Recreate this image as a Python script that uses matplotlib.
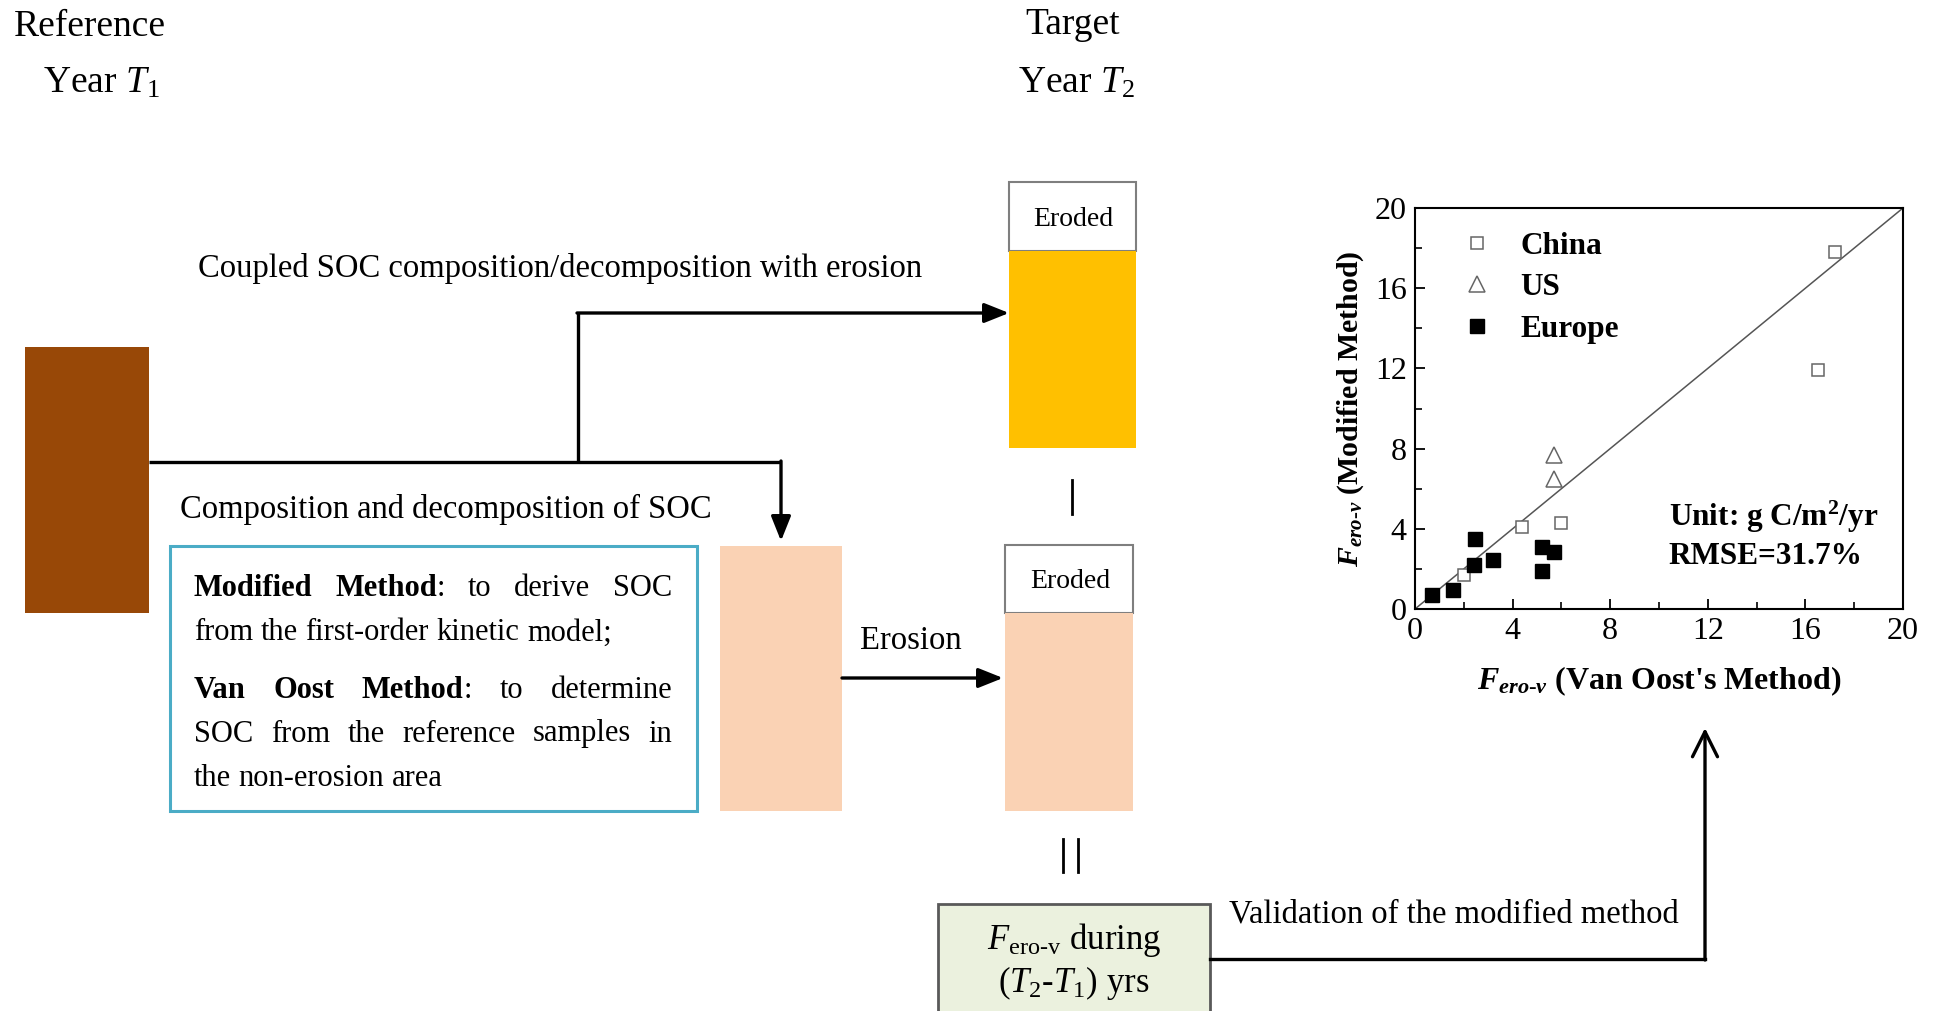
import matplotlib
matplotlib.use("Agg")
import matplotlib.pyplot as plt
from matplotlib.patches import Rectangle

plt.rcParams['font.family'] = ['Liberation Serif', 'DejaVu Serif']
plt.rcParams['mathtext.fontset'] = 'custom'
plt.rcParams['mathtext.rm'] = 'Liberation Serif'
plt.rcParams['mathtext.it'] = 'Liberation Serif:italic'
plt.rcParams['mathtext.bf'] = 'Liberation Serif:bold'
plt.rcParams['mathtext.bfit'] = 'Liberation Serif:italic:bold'

# scatter data (F_ero-v, Van Oost vs modified method)
china_x = [17.2, 16.5, 4.4, 6.0, 2.0]
china_y = [17.8, 11.9, 4.1, 4.3, 1.7]
us_x = [5.7, 5.7]
us_y = [7.7, 6.5]
europe_x = [0.7, 1.55, 2.4, 2.45, 3.2, 5.2, 5.2, 5.7]
europe_y = [0.7, 0.95, 2.2, 3.5, 2.45, 3.1, 1.9, 2.85]
ticks = [0, 4, 8, 12, 16, 20]

W, H = 1941, 1011
fig = plt.figure(figsize=(W / 100, H / 100), dpi=100)
ax = fig.add_axes([0, 0, 1, 1])
ax.set_xlim(0, W)
ax.set_ylim(H, 0)
ax.axis("off")

BROWN = "#984807"
ORANGE = "#FFC000"
PEACH = "#FAD2B4"
BLUE = "#4BACC6"
GREEN = "#EBF1DE"

# header texts
ax.text(90, 27, "Reference", fontsize=27, ha="center", va="center")
ax.text(101, 83, r"Year $T_1$", fontsize=27, ha="center", va="center")
ax.text(1073, 25, "Target", fontsize=27, ha="center", va="center")
ax.text(1076, 83, r"Year $T_2$", fontsize=27, ha="center", va="center")

# blocks
ax.add_patch(Rectangle((25, 347), 124, 266, color=BROWN, lw=0))
ax.add_patch(Rectangle((1009, 182), 127, 69, fc="white", ec="#7f7f7f", lw=1.5))
ax.add_patch(Rectangle((1009, 251), 127, 197, color=ORANGE, lw=0))
ax.text(1073, 219, "Eroded", fontsize=20, ha="center", va="center")

ax.add_patch(Rectangle((720, 546), 122, 265, color=PEACH, lw=0))
ax.add_patch(Rectangle((1005, 545), 128, 68, fc="white", ec="#7f7f7f", lw=1.5))
ax.add_patch(Rectangle((1005, 613), 128, 198, color=PEACH, lw=0))
ax.text(1070, 582, "Eroded", fontsize=20, ha="center", va="center")

ax.add_patch(Rectangle((170, 546), 527, 265, fc="white", ec=BLUE, lw=2.2))
ax.add_patch(Rectangle((938, 904), 272, 140, fc=GREEN, ec="#595959", lw=2))

# connectors
lw = 2.4
head = dict(arrowstyle="-|>,head_length=0.75,head_width=0.3", color="k",
            lw=lw, mutation_scale=20, shrinkA=0, shrinkB=0)
ax.plot([149, 781], [462, 462], color="k", lw=lw, solid_capstyle="butt")
ax.annotate("", xy=(781, 541), xytext=(781, 461), arrowprops=head)
ax.plot([578, 578], [462, 313], color="k", lw=lw, solid_capstyle="butt")
ax.annotate("", xy=(1009, 313), xytext=(577, 313), arrowprops=head)
ax.annotate("", xy=(1003, 678), xytext=(842, 678), arrowprops=head)
ax.plot([1072, 1072], [480, 514], color="k", lw=2)
ax.plot([1063, 1063], [839, 872], color="k", lw=2)
ax.plot([1078, 1078], [839, 872], color="k", lw=2)
ax.plot([1210, 1705], [959, 959], color="k", lw=lw)
ax.annotate("", xy=(1705, 728), xytext=(1705, 960),
            arrowprops=dict(arrowstyle="->,head_length=0.9,head_width=0.45",
                            color="k", lw=lw, mutation_scale=20,
                            shrinkA=0, shrinkB=0))

# labels
ax.text(198, 269, "Coupled SOC composition/decomposition with erosion",
        fontsize=23.5, ha="left", va="center")
ax.text(180, 509, "Composition and decomposition of SOC",
        fontsize=23.5, ha="left", va="center")
ax.text(911, 641, "Erosion", fontsize=23.5, ha="center", va="center")
ax.text(1229, 914, "Validation of the modified method", fontsize=23.5,
        ha="left", va="center")
ax.text(1074, 940, r"$F_{\mathrm{ero}\text{-}\mathrm{v}}$ during", fontsize=25,
        ha="center", va="center")
ax.text(1074, 983, r"($T_2$-$T_1$) yrs", fontsize=25, ha="center", va="center")

# justified box text
renderer = fig.canvas.get_renderer()
BOX_FS = 22
x_left, x_right = 194, 672


def draw_line(words, y, justify):
    objs = []
    widths = []
    for word in words:
        parts = []
        wsum = 0
        for s, wt in word:
            t = ax.text(0, y, s, fontsize=BOX_FS, fontweight=wt, va="center")
            w = t.get_window_extent(renderer).width
            parts.append((t, w))
            wsum += w
        objs.append(parts)
        widths.append(wsum)
    if justify:
        gap = (x_right - x_left - sum(widths)) / (len(words) - 1)
    else:
        gap = 0.25 * BOX_FS * 100 / 72
    x = x_left
    for parts, wsum in zip(objs, widths):
        xx = x
        for t, w in parts:
            t.set_x(xx)
            xx += w
        x += wsum + gap


def plain(s):
    return [[(w, "normal")] for w in s.split()]


draw_line([[("Modified", "bold")], [("Method", "bold"), (":", "normal")]]
          + plain("to derive SOC"), 588, True)
draw_line(plain("from the first-order kinetic model;"), 633, False)
draw_line([[("Van", "bold")], [("Oost", "bold")], [("Method", "bold"), (":", "normal")]]
          + plain("to determine"), 690, True)
draw_line(plain("SOC from the reference samples in"), 734, True)
draw_line(plain("the non-erosion area"), 779, False)

# scatter inset
sx = fig.add_axes([1415 / W, (H - 609) / H, 488 / W, 401 / H])
sx.plot([0, 20], [0, 20], color="#555555", lw=1.1, zorder=1)
sx.plot(china_x, china_y, ls="none", marker="s", ms=9, mfc="white",
        mec="#666666", mew=1.1, label="China")
sx.plot(us_x, us_y, ls="none", marker="^", ms=11, mfc="white",
        mec="#666666", mew=1.1, label="US")
sx.plot(europe_x, europe_y, ls="none", marker="s", ms=10, color="black",
        label="Europe")
sx.set_xlim(0, 20)
sx.set_ylim(0, 20)
sx.set_xticks(ticks)
sx.set_yticks(ticks)
sx.set_xticks([2, 6, 10, 14, 18], minor=True)
sx.set_yticks([2, 6, 10, 14, 18], minor=True)
sx.tick_params(direction="in", labelsize=23, length=7, width=1.3, pad=6)
sx.tick_params(which="minor", direction="in", length=5, width=1.2)
for sp in sx.spines.values():
    sp.set_linewidth(1.5)
sx.set_xlabel(r"$\mathbfit{F}_{\mathbfit{ero}\text{-}\mathbfit{v}}$ (Van Oost's Method)",
              fontsize=23, fontweight="bold", labelpad=13)
sx.set_ylabel(r"$\mathbfit{F}_{\mathbfit{ero}\text{-}\mathbfit{v}}$ (Modified Method)",
              fontsize=21.5, fontweight="bold", labelpad=6)
sx.legend(loc="upper left", bbox_to_anchor=(0.062, 0.972), frameon=False,
          borderaxespad=0, handlelength=1.2, handletextpad=0.8,
          labelspacing=0.4, prop=dict(weight="bold", size=22.5))
sx.text(10.4, 4.57, r"Unit: g C/m$^\mathbf{2}$/yr", fontsize=22.5,
        fontweight="bold", va="center")
sx.text(10.4, 2.6, "RMSE=31.7%", fontsize=22.5, fontweight="bold", va="center")

fig.savefig("out.png", dpi=100)
